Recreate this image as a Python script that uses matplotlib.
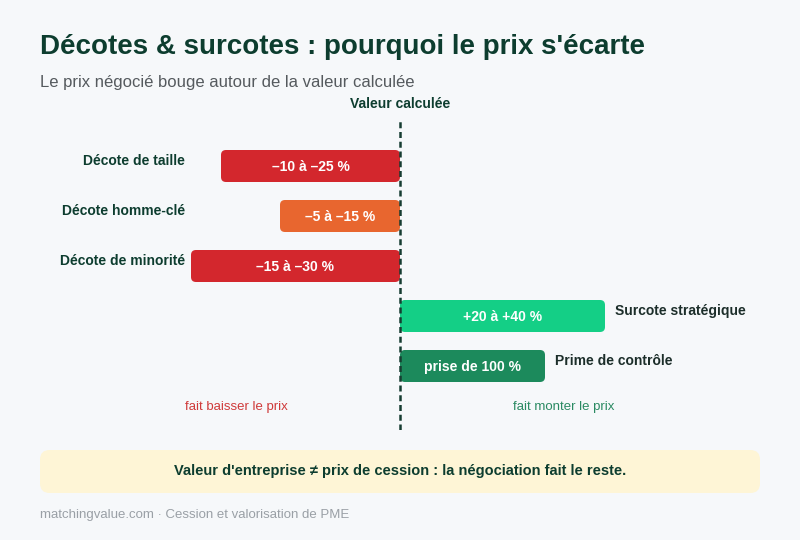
import matplotlib
matplotlib.use("Agg")
import matplotlib.pyplot as plt
from matplotlib.patches import FancyBboxPatch

plt.rcParams['font.family'] = ['Liberation Sans', 'DejaVu Sans']

# ---- data ----
categories = ["Décote de taille", "Décote homme-clé", "Décote de minorité",
              "Surcote stratégique", "Prime de contrôle"]
bar_extent = [-17.9, -12.0, -20.9, 20.5, 14.5]   # visual length of each bar
bar_labels = ["–10 à –25 %", "–5 à –15 %", "–15 à –30 %", "+20 à +40 %", "prise de 100 %"]
colors = ["#d3272d", "#e8662f", "#d3272d", "#14cf86", "#1c8a5c"]

BG = "#f6f8fa"
DARK = "#0d3d2f"

fig = plt.figure(figsize=(8, 5.4), dpi=100, facecolor=BG)

# bar axes: x 0..800 px -> -40..40 ; y 118..430 px
ax = fig.add_axes([0, 1 - 430 / 540, 1, 312 / 540])
ax.set_facecolor("none")
ax.set_xlim(-40, 40)
ax.set_ylim(5.28, -0.96)
ax.axis("off")

ypos = list(range(len(categories)))
bars = ax.barh(ypos, bar_extent, height=0.64, color=colors)
for b, c in zip(bars, colors):
    x, y = b.get_x(), b.get_y()
    w, h = b.get_width(), b.get_height()
    b.set_visible(False)
    x0, x1 = min(x, x + w), max(x, x + w)
    p = FancyBboxPatch((x0, y), x1 - x0, h,
                       boxstyle="round,pad=0,rounding_size=0.5",
                       mutation_aspect=0.2, facecolor=c, edgecolor="none", zorder=2)
    ax.add_patch(p)

for i, (v, lab, cat) in enumerate(zip(bar_extent, bar_labels, categories)):
    ax.text(v / 2, i + 0.02, lab, ha="center", va="center", color="white",
            fontsize=10, fontweight="bold", zorder=4)
    if v < 0:
        ax.text(-21.5, i - 0.1, cat, ha="right", va="center", color=DARK,
                fontsize=10, fontweight="bold")
    else:
        ax.text(v + 1.0, i - 0.1, cat, ha="left", va="center", color="#1c2e2a",
                fontsize=10, fontweight="bold")

ax.axvline(0, color="#163d31", lw=1.8, ls=(0, (2.4, 1.5)), zorder=3)

ax.text(-16.4, 4.82, "fait baisser le prix", ha="center", va="center",
        color="#cf3a3a", fontsize=9.5)
ax.text(16.4, 4.82, "fait monter le prix", ha="center", va="center",
        color="#2a8a62", fontsize=9.5)

# titles
fig.text(40 / 800, 1 - 47 / 540, "Décotes & surcotes : pourquoi le prix s'écarte",
         ha="left", va="center", fontsize=20, fontweight="bold", color=DARK)
fig.text(40 / 800, 1 - 82 / 540, "Le prix négocié bouge autour de la valeur calculée",
         ha="left", va="center", fontsize=12, color="#555a5e")
fig.text(0.5, 1 - 104 / 540, "Valeur calculée", ha="center", va="center",
         fontsize=10, fontweight="bold", color=DARK)

# callout box
box = FancyBboxPatch((40 / 800, 1 - 493 / 540), 720 / 800, 43 / 540,
                     boxstyle="round,pad=0,rounding_size=0.012",
                     transform=fig.transFigure, facecolor="#fef5d6",
                     edgecolor="none", mutation_aspect=800 / 540)
fig.patches.append(box)
fig.text(0.5, 1 - 471 / 540,
         "Valeur d'entreprise ≠ prix de cession : la négociation fait le reste.",
         ha="center", va="center", fontsize=10.5, fontweight="bold", color=DARK)

fig.text(40 / 800, 1 - 515 / 540, "matchingvalue.com · Cession et valorisation de PME",
         ha="left", va="center", fontsize=9.5, color="#9aa0a6")

fig.savefig("out.png", dpi=100, facecolor=BG)
